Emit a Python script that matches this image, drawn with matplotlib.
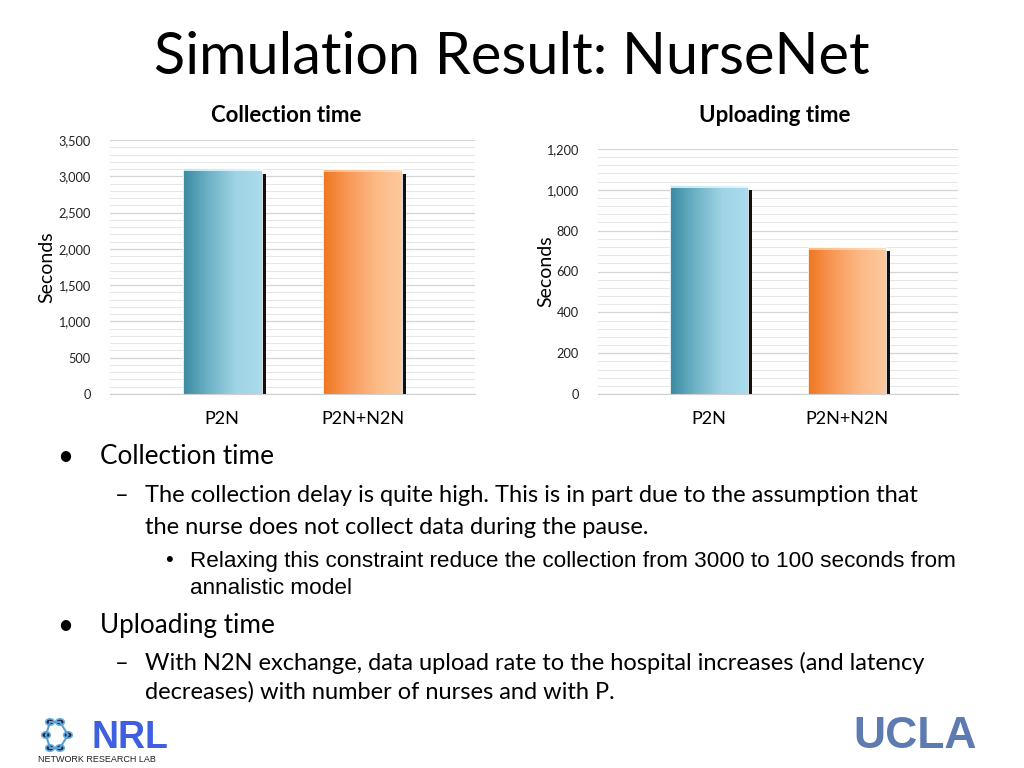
import matplotlib
matplotlib.use("Agg")
import matplotlib.pyplot as plt
import numpy as np
from matplotlib.colors import LinearSegmentedColormap
from matplotlib.transforms import ScaledTranslation
from matplotlib.ticker import MultipleLocator, FuncFormatter

categories = ["P2N", "P2N+N2N"]
collection_values = [3110, 3100]
upload_values = [1025, 720]
collection_ticks = [0, 500, 1000, 1500, 2000, 2500, 3000, 3500]
upload_ticks = [0, 200, 400, 600, 800, 1000, 1200]

FONT = "Lato"
plt.rcParams['font.family'] = [FONT, 'DejaVu Sans']

fig = plt.figure(figsize=(10.24, 7.68), dpi=100)
fig.patch.set_facecolor("white")

def px(x, y):
    return x / 1024, 1 - y / 768

teal = LinearSegmentedColormap.from_list("teal", ["#3a8aa2", "#6fb3c6", "#9fd3e5", "#a9dcec"])
orange = LinearSegmentedColormap.from_list("orange", ["#f07620", "#f89a5a", "#fcb985", "#fdc99e"])
cmaps = [teal, orange]

def draw_chart(rect, values, ticks, minor, ylab_x):
    ax = fig.add_axes(rect)
    ax.set_xlim(-0.8, 1.8)
    ax.set_ylim(0, ticks[-1])
    ax.set_yticks(ticks)
    ax.yaxis.set_minor_locator(MultipleLocator(minor))
    ax.yaxis.set_major_formatter(FuncFormatter(lambda v, p: f"{int(v):,}"))
    ax.grid(True, which="major", axis="y", color="#d4d4d4", lw=0.9)
    ax.grid(True, which="minor", axis="y", color="#e6e6e6", lw=0.7)
    ax.set_axisbelow(True)
    for s in ["top", "right", "left"]:
        ax.spines[s].set_visible(False)
    ax.spines["bottom"].set_color("#d0d0d0")
    ax.tick_params(axis="y", which="both", length=0, labelsize=9.2, colors="#222222", pad=14)
    ax.tick_params(axis="x", length=0, labelsize=13, colors="black", pad=12)
    ax.set_xticks(range(len(categories)))
    ax.set_xticklabels(categories)
    ax.set_ylabel("Seconds", fontsize=14)
    ax.yaxis.set_label_coords(ylab_x, 0.5)
    w = 0.56
    shadow = ax.bar(range(len(values)), [v * 0.985 for v in values], width=w, color="#111111", zorder=2)
    off = ScaledTranslation(4 / 100, -2 / 100, fig.dpi_scale_trans)
    for b in shadow:
        b.set_transform(ax.transData + off)
    bars = ax.bar(range(len(values)), values, width=w, color="none", zorder=3,
                  edgecolor="#ffffff", lw=0.6)
    grad = np.linspace(0, 1, 256).reshape(1, -1)
    for i, b in enumerate(bars):
        x0 = b.get_x(); x1 = x0 + b.get_width(); h = b.get_height()
        im = ax.imshow(grad, cmap=cmaps[i], extent=(x0, x1, 0, h), aspect="auto", zorder=2.5)
        im.set_clip_path(b)
        hl = ax.imshow(grad, cmap=LinearSegmentedColormap.from_list("h", ["#bfe6f0", "#e6f6fb"] if i == 0 else ["#fbb784", "#fde0c4"]),
                       extent=(x0, x1, h - ticks[-1] * 0.012, h), aspect="auto", zorder=2.6)
        hl.set_clip_path(b)
    ax.set_xlim(-0.8, 1.8)
    ax.set_ylim(0, ticks[-1])
    return ax

l, b = px(110, 394)
draw_chart([l, b, 365 / 1024, 254 / 768], collection_values, collection_ticks, 100, -0.15)
l, b = px(598, 394)
draw_chart([l, b, 360 / 1024, 245 / 768], upload_values, upload_ticks, 40, -0.122)

fig.text(*px(286, 115), "Collection time", fontsize=16, fontweight="bold", ha="center", va="center")
fig.text(*px(775, 115), "Uploading time", fontsize=16, fontweight="bold", ha="center", va="center")

# Slide title
fig.text(*px(512, 58), "Simulation Result: NurseNet", fontsize=41.5, ha="center", va="center")

def t(x, y, s, size, family=FONT, **kw):
    fig.text(*px(x, y), s, fontsize=size, va="center", ha="left", family=family, **kw)

t(57, 457, "•", 20)
t(100, 457, "Collection time", 18.8)
t(115, 495, "–", 17)
t(145, 495, "The collection delay is quite high. This is in part due to the assumption that", 17)
t(145, 527, "the nurse does not collect data during the pause.", 17)
t(165, 561, "•", 16, family="Liberation Sans")
t(190, 561, "Relaxing this constraint reduce the collection from 3000 to 100 seconds from", 16.2, family="Liberation Sans")
t(190, 589, "annalistic model", 16.2, family="Liberation Sans")
t(57, 626, "•", 20)
t(100, 626, "Uploading time", 18.8)
t(115, 663, "–", 17)
t(145, 663, "With N2N exchange, data upload rate to the hospital increases (and latency", 17)
t(145, 692, "decreases) with number of nurses and with P.", 17)

# logos
t(92, 738, "NRL", 27, family="Liberation Sans", fontweight="bold", color="#3d5fe0")
t(38, 760, "NETWORK RESEARCH LAB", 6.5, family="Liberation Sans", color="#222222")
lx = [50, 60, 68, 60, 50, 46]
ly = [722, 722, 735, 748, 748, 735]
for i in range(len(lx)):
    j = (i + 1) % len(lx)
    fig.add_artist(plt.Line2D([lx[i] / 1024, lx[j] / 1024], [1 - ly[i] / 768, 1 - ly[j] / 768],
                              color="#5aa0d0", lw=1.5))
for x, y in zip(lx, ly):
    fig.add_artist(plt.Circle((x / 1024, 1 - y / 768), 0.0042, transform=fig.transFigure,
                              facecolor="#222244", edgecolor="#6ab0e0", lw=1.2))
fig.text(*px(915, 736), "UCLA", fontsize=32, fontweight="bold", family="Liberation Sans",
         color="#5d7bb0", ha="center", va="center")

fig.savefig("out.png", dpi=100)
